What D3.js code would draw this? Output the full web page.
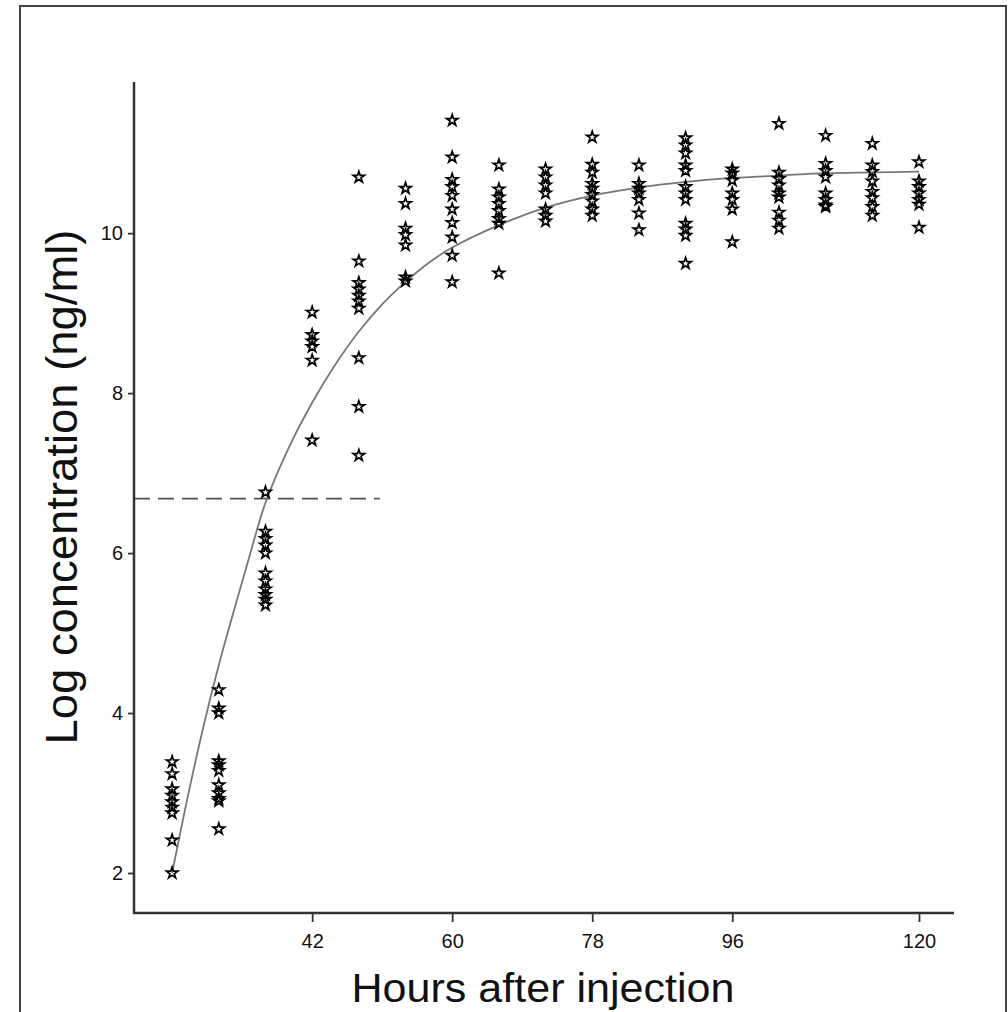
<!DOCTYPE html>
<html>
<head>
<meta charset="utf-8">
<script src="https://cdn.jsdelivr.net/npm/d3@7"></script>
<style>
  html, body { margin: 0; padding: 0; background: #fff; }
  svg { display: block; }
  text { font-family: "Liberation Sans", Arial, sans-serif; fill: #111; }
</style>
</head>
<body>
<svg id="chart" width="1008" height="1012"></svg>
<script>
// ---- data ----
const hours = [24, 30, 36, 42, 48, 54, 60, 66, 72, 78, 84, 90, 96, 102, 108, 114, 120];
const logConc = [
  [3.39, 3.24, 3.05, 2.97, 2.89, 2.82, 2.75, 2.41, 2.0],
  [4.29, 4.06, 4.0, 3.4, 3.35, 3.28, 3.1, 3.0, 2.93, 2.9, 2.55],
  [6.76, 6.27, 6.18, 6.1, 6.0, 5.75, 5.65, 5.55, 5.48, 5.42, 5.35],
  [9.01, 8.73, 8.65, 8.58, 8.41, 7.41],
  [10.7, 9.65, 9.38, 9.3, 9.22, 9.15, 9.06, 8.44, 7.83, 7.22],
  [10.56, 10.37, 10.06, 9.98, 9.85, 9.45, 9.4],
  [11.41, 10.95, 10.67, 10.58, 10.47, 10.3, 10.13, 9.95, 9.72, 9.39],
  [10.85, 10.55, 10.45, 10.37, 10.28, 10.18, 10.12, 9.5],
  [10.8, 10.7, 10.6, 10.5, 10.3, 10.22, 10.15],
  [11.2, 10.86, 10.76, 10.62, 10.56, 10.48, 10.4, 10.3, 10.22],
  [10.85, 10.62, 10.56, 10.5, 10.42, 10.25, 10.04],
  [11.19, 11.1, 11.0, 10.85, 10.78, 10.58, 10.5, 10.42, 10.12, 10.05, 9.97, 9.62],
  [10.8, 10.75, 10.66, 10.5, 10.42, 10.3, 9.89],
  [11.37, 10.76, 10.68, 10.6, 10.5, 10.45, 10.26, 10.16, 10.06],
  [11.22, 10.87, 10.78, 10.7, 10.5, 10.42, 10.35, 10.33],
  [11.12, 10.85, 10.77, 10.65, 10.52, 10.44, 10.33, 10.22],
  [10.89, 10.65, 10.58, 10.5, 10.42, 10.36, 10.07]
];
const curveHours  = [24, 26, 28, 30, 32, 34, 36, 39, 42, 45, 48, 51, 54, 57, 60, 66, 72, 78, 84, 90, 96, 102, 108, 114, 120];
const curveValues = [2.0, 2.95, 3.82, 4.6, 5.3, 5.98, 6.63, 7.32, 7.88, 8.36, 8.77, 9.11, 9.39, 9.63, 9.82, 10.1, 10.32, 10.47, 10.57, 10.64, 10.69, 10.72, 10.75, 10.76, 10.77];
const thresholdLevel = 6.68;
const thresholdEndHour = 50.7;
const xTicks = [42, 60, 78, 96, 120];
const yTicks = [2, 4, 6, 8, 10];
const xTitle = "Hours after injection";
const yTitle = "Log concentration (ng/ml)";

// ---- layout ----
const svg = d3.select("#chart");
const plotLeft = 134, plotRight = 954, plotTop = 82, plotBottom = 913;

const x = d3.scaleLinear().domain([19.1, 124.5]).range([plotLeft, plotRight]);
const y = d3.scaleLinear().domain([1.5, 11.89]).range([plotBottom, plotTop]);

// outer frame
svg.append("rect")
  .attr("x", 20).attr("y", 6).attr("width", 986).attr("height", 1030)
  .attr("fill", "#fff").attr("stroke", "#444").attr("stroke-width", 2);

// threshold dashed line
svg.append("line")
  .attr("x1", x(x.domain()[0])).attr("x2", x(thresholdEndHour))
  .attr("y1", y(thresholdLevel)).attr("y2", y(thresholdLevel))
  .attr("stroke", "#555").attr("stroke-width", 1.8)
  .attr("stroke-dasharray", "16,8");

// fitted curve
const curvePts = curveHours.map((h, i) => [h, curveValues[i]]);
svg.append("path")
  .datum(curvePts)
  .attr("fill", "none")
  .attr("stroke", "#777")
  .attr("stroke-width", 1.8)
  .attr("d", d3.line().x(d => x(d[0])).y(d => y(d[1])).curve(d3.curveCatmullRom.alpha(0.5)));

// stars
const pts = [];
hours.forEach((h, i) => logConc[i].forEach(v => pts.push([h, v])));
const star = d3.symbol().type(d3.symbolStar).size(40);
svg.append("g").selectAll("path")
  .data(pts).join("path")
  .attr("transform", d => `translate(${x(d[0])},${y(d[1])})`)
  .attr("d", star)
  .attr("fill", "none")
  .attr("stroke", "#000")
  .attr("stroke-width", 1.7);

// axes
const xAxis = d3.axisBottom(x).tickValues(xTicks).tickSize(9).tickPadding(12).tickSizeOuter(0);
const yAxis = d3.axisLeft(y).tickValues(yTicks).tickSize(6).tickPadding(5).tickSizeOuter(0);

const gx = svg.append("g").attr("transform", `translate(0,${plotBottom})`).call(xAxis);
const gy = svg.append("g").attr("transform", `translate(${plotLeft},0)`).call(yAxis);
[gx, gy].forEach(g => {
  g.select(".domain").attr("stroke", "#333").attr("stroke-width", 2.5);
  g.selectAll(".tick line").attr("stroke", "#333").attr("stroke-width", 1.8);
  g.selectAll(".tick text")
    .attr("font-family", "'Liberation Sans', Arial, sans-serif")
    .attr("font-size", 20).attr("fill", "#111");
});
gx.select(".domain").attr("d", `M${plotLeft - 1},0H${plotRight}`);
gy.select(".domain").attr("d", `M0,${plotTop}V${plotBottom + 1}`);

// titles
svg.append("text")
  .attr("x", 543).attr("y", 1002)
  .attr("text-anchor", "middle")
  .attr("font-size", 40)
  .attr("textLength", 383).attr("lengthAdjust", "spacingAndGlyphs")
  .text(xTitle);

svg.append("text")
  .attr("transform", "translate(77,487) rotate(-90)")
  .attr("text-anchor", "middle")
  .attr("font-size", 44)
  .attr("textLength", 515).attr("lengthAdjust", "spacingAndGlyphs")
  .text(yTitle);
</script>
</body>
</html>
